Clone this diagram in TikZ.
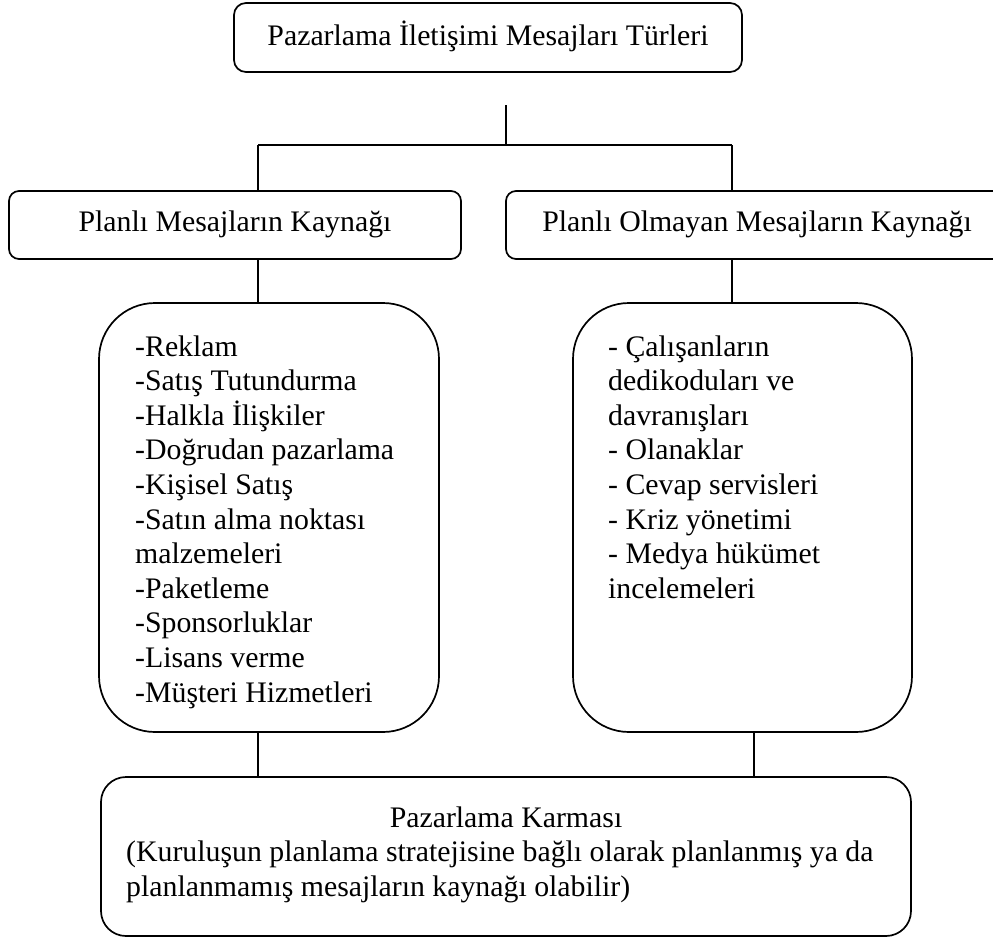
\documentclass[tikz,border=0pt]{standalone}
\usepackage{fontspec}
\setmainfont{Liberation Serif}
\begin{document}
\begin{tikzpicture}[x=1pt,y=-1pt,
  every node/.style={font=\fontsize{29.8}{34.6}\selectfont},
  box/.style={draw=black,line width=1.7pt,inner sep=0pt},
  headbox/.style={box,rounded corners=10pt,text height=20pt,text depth=8pt},
  listbox/.style={box,rounded corners=56pt},
  txt/.style={inner sep=0pt},
  link/.style={draw=black,line width=1.5pt}]
\useasboundingbox (0,0) rectangle (993,937);
\clip (0,0) rectangle (993,937);

% title box
\node[box,rounded corners=12pt,minimum width=508pt,minimum height=69pt,
      text height=20pt,text depth=5pt] (title) at (488,37.5)
  {Pazarlama İletişimi Mesajları Türleri};

% the two source boxes (the right one runs past the page edge)
\node[headbox,minimum width=452pt,minimum height=68pt] (plan) at (235,225)
  {Planlı Mesajların Kaynağı};
\node[headbox,minimum width=502pt,minimum height=68pt] (unplan) at (757,225)
  {Planlı Olmayan Mesajların Kaynağı};

% list boxes
\node[listbox,minimum width=340pt,minimum height=429pt] (planlist) at (269,517.5) {};
\node[listbox,minimum width=339pt,minimum height=429pt] (unplanlist) at (742.5,517.5) {};

\node[txt,anchor=base west] (planitems) at (135,356)
  {\vtop{\baselineskip=34.6pt
    \hbox{-Reklam}
    \hbox{-Satış Tutundurma}
    \hbox{-Halkla İlişkiler}
    \hbox{-Doğrudan pazarlama}
    \hbox{-Kişisel Satış}
    \hbox{-Satın alma noktası}
    \hbox{malzemeleri}
    \hbox{-Paketleme}
    \hbox{-Sponsorluklar}
    \hbox{-Lisans verme}
    \hbox{-Müşteri Hizmetleri}}};

\node[txt,anchor=base west] (unplanitems) at (608,356)
  {\vtop{\baselineskip=34.6pt
    \hbox{- Çalışanların}
    \hbox{dedikoduları ve}
    \hbox{davranışları}
    \hbox{- Olanaklar}
    \hbox{- Cevap servisleri}
    \hbox{- Kriz yönetimi}
    \hbox{- Medya hükümet}
    \hbox{incelemeleri}}};

% marketing mix box
\node[box,rounded corners=25pt,minimum width=810pt,minimum height=159pt] (mix) at (506,856.5) {};
\node[txt,anchor=base] (mixhead) at (506,827) {Pazarlama Karması};
\node[txt,anchor=base west] (mixnote) at (126,861.5)
  {\vtop{\baselineskip=34.6pt
    \hbox{(Kuruluşun planlama stratejisine bağlı olarak planlanmış ya da}
    \hbox{planlanmamış mesajların kaynağı olabilir)}}};

% connectors
\coordinate (stem) at (506,105);
\coordinate (fork) at (506,145);
\coordinate (forkL) at (258,145);
\coordinate (forkR) at (732,145);
\coordinate (lowR) at (754,0);
\draw[link] (stem) -- (fork);
\draw[link] (forkL) -- (forkR);
\draw[link] (forkL) -- (forkL |- plan.north);
\draw[link] (forkR) -- (forkR |- unplan.north);
\draw[link] (forkL |- plan.south) -- (forkL |- planlist.north);
\draw[link] (forkR |- unplan.south) -- (forkR |- unplanlist.north);
\draw[link] (forkL |- planlist.south) -- (forkL |- mix.north);
\draw[link] (lowR |- unplanlist.south) -- (lowR |- mix.north);
\end{tikzpicture}
\end{document}
